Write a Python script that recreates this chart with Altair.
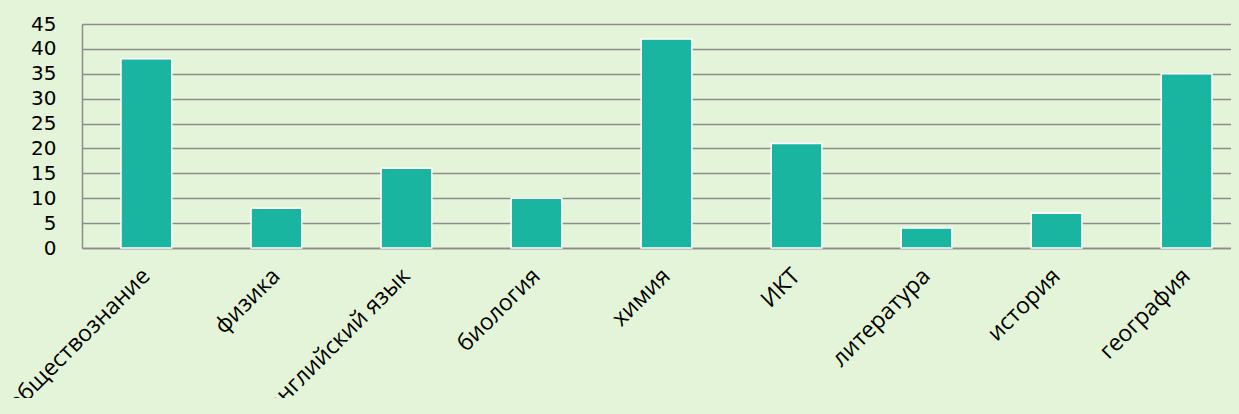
import altair as alt
import pandas as pd

subjects = ["обществознание", "физика", "английский язык", "биология", "химия",
            "ИКТ", "литература", "история", "география"]
values = [38, 8, 16, 10, 42, 21, 4, 7, 35]

df = pd.DataFrame({"subject": subjects, "value": values})

bg = "#e4f4d8"

# give the page itself the same background as the chart
try:
    import altair.utils.html as _h
    _orig = _h.TEMPLATES["standard"]

    class _Wrap:
        def render(self, *a, **kw):
            out = _orig.render(*a, **kw)
            return out.replace("<head>", "<head><style>html,body{background:%s;}</style>" % bg, 1)

    _h.TEMPLATES["standard"] = _Wrap()
except Exception:
    pass

chart = alt.Chart(df).mark_bar(
    color="#1ab5a0", stroke="white", strokeWidth=1.5
).encode(
    x=alt.X("subject:N", sort=subjects,
            scale=alt.Scale(paddingInner=0.61, paddingOuter=0.3, range=[0, 1169]),
            axis=alt.Axis(title=None, labelAngle=-45, labelAlign="right",
                          labelBaseline="middle", labelFontSize=23,
                          labelFont="Open Sans", labelColor="black",
                          labelPadding=24, ticks=False, domainColor="#8c8c8c",
                          domainWidth=1.5, labelOverlap=False, labelLimit=400)),
    y=alt.Y("value:Q", scale=alt.Scale(domain=[0, 45]),
            axis=alt.Axis(title=None, values=list(range(0, 46, 5)), labelFontSize=20,
                          labelFont="DejaVu Sans", labelColor="black", labelPadding=26,
                          ticks=False, domainColor="#8c8c8c", domainWidth=1.5,
                          gridColor="#8c8c8c", gridWidth=1.5))
).properties(
    width=1149, height=224,
    background=bg,
    padding={"left": 74, "top": 16, "right": 0, "bottom": 150},
    autosize=alt.AutoSizeParams(type="none")
).configure_view(stroke=None)

chart.save("out.html", embed_options={"renderer": "svg", "actions": False})
